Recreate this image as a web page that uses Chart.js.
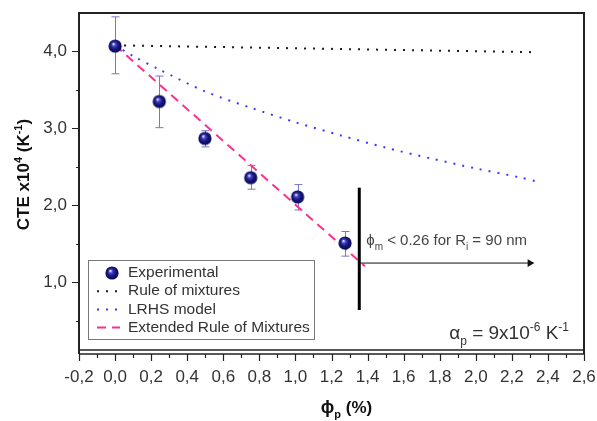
<!DOCTYPE html>
<html><head><meta charset="utf-8">
<script src="https://cdn.jsdelivr.net/npm/chart.js@4/dist/chart.umd.min.js"></script>
<style>html,body{margin:0;padding:0;background:#fff}#wrap{width:597px;height:421px}</style>
</head><body><div id="wrap"><canvas id="c" width="597" height="421"></canvas></div>
<script>
// ---- data ----
const expPhi   = [0.0, 0.245, 0.498, 0.752, 1.012, 1.275];
const expCte   = [4.07, 3.35, 2.87, 2.36, 2.11, 1.51];
const expErrHi = [4.45, 3.68, 2.97, 2.52, 2.27, 1.66];
const expErrLo = [3.71, 3.01, 2.76, 2.21, 1.94, 1.34];

const romPhi = [0.0, 2.34];
const romCte = [4.08, 3.99];

const lrhsPhi = [0.0, 0.1, 0.25, 0.5, 0.75, 1.0, 1.25, 1.5, 1.75, 2.0, 2.25, 2.34];
const lrhsCte = [4.08, 3.94, 3.76, 3.48, 3.27, 3.08, 2.91, 2.75, 2.61, 2.48, 2.36, 2.31];

const eromPhi = [0.0, 1.385];
const eromCte = [4.08, 1.21];

const limitPhi = [1.354, 1.354];
const limitCte = [0.64, 2.23];
const arrowPhi = [1.354, 2.30];
const arrowCte = [1.25, 1.25];

const xTicks = [-0.2,0.0,0.2,0.4,0.6,0.8,1.0,1.2,1.4,1.6,1.8,2.0,2.2,2.4,2.6];
const xMinor = [-0.1,0.1,0.3,0.5,0.7,0.9,1.1,1.3,1.5,1.7,1.9,2.1,2.3,2.5];
const yTicks = [1.0,2.0,3.0,4.0];
const yMinor = [0.5,1.5,2.5,3.5];

const legendLabels = ['Experimental','Rule of mixtures','LRHS model','Extended Rule of Mixtures'];

const FONT = '"Liberation Sans", Arial, "DejaVu Sans", sans-serif';
const TXT = '#333333';

function sphere(){
  const s=16, cv=document.createElement('canvas'); cv.width=s; cv.height=s;
  const g=cv.getContext('2d');
  const grd=g.createRadialGradient(6.3,5.8,0.3,8,8,7.2);
  grd.addColorStop(0,'#f0f0ff'); grd.addColorStop(0.22,'#4848c0');
  grd.addColorStop(0.55,'#15157f'); grd.addColorStop(1,'#06064e');
  g.fillStyle=grd; g.beginPath(); g.arc(8,8,6.6,0,Math.PI*2); g.fill();
  return cv;
}
const ball = sphere();
const pts = (xs,ys)=>xs.map((x,i)=>({x:x,y:ys[i]}));

function drawRich(ctx, runs, x, y, align){
  let w=0;
  runs.forEach(r=>{ctx.font=(r.b?'bold ':'')+r.s+'px '+FONT; r.w=ctx.measureText(r.t).width; w+=r.w;});
  let cx = align==='center'? x-w/2 : align==='right'? x-w : x;
  ctx.textBaseline='alphabetic'; ctx.textAlign='left';
  runs.forEach(r=>{ctx.font=(r.b?'bold ':'')+r.s+'px '+FONT; ctx.fillText(r.t,cx,y+(r.dy||0)); cx+=r.w;});
}

const fmt = v => v.toFixed(1).replace('.',',');

const errPlugin = {
  id:'err',
  beforeDatasetsDraw(chart){
    const ctx=chart.ctx, xs=chart.scales.x, ys=chart.scales.y;
    ctx.save(); ctx.strokeStyle='#7878c4'; ctx.lineWidth=1;
    expPhi.forEach((p,i)=>{
      const px=Math.round(xs.getPixelForValue(p))+0.5;
      const t=ys.getPixelForValue(expErrHi[i]), b=ys.getPixelForValue(expErrLo[i]);
      ctx.beginPath(); ctx.moveTo(px,t); ctx.lineTo(px,b);
      ctx.moveTo(px-4,t); ctx.lineTo(px+4,t); ctx.moveTo(px-4,b); ctx.lineTo(px+4,b); ctx.stroke();
    });
    ctx.restore();
  }
};

const framePlugin = {
  id:'frame',
  afterDraw(chart){
    const ctx=chart.ctx, a=chart.chartArea, xs=chart.scales.x, ys=chart.scales.y, ds=chart.data.datasets;
    ctx.save();
    // frame
    ctx.strokeStyle='#222'; ctx.lineWidth=2;
    ctx.beginPath();
    ctx.moveTo(a.left,a.bottom+4); ctx.lineTo(a.left,a.top); ctx.lineTo(a.right,a.top); ctx.lineTo(a.right,a.bottom+4);
    ctx.stroke();
    ctx.lineWidth=1.5;
    ctx.beginPath(); ctx.moveTo(a.left,a.bottom); ctx.lineTo(a.right,a.bottom);
    ctx.moveTo(a.left,a.bottom+4); ctx.lineTo(a.right,a.bottom+4); ctx.stroke();
    // ticks
    ctx.lineWidth=1.2;
    ctx.beginPath();
    xTicks.forEach(v=>{const p=Math.round(xs.getPixelForValue(v))+0.5; ctx.moveTo(p,a.bottom+4); ctx.lineTo(p,a.bottom+11);});
    xMinor.forEach(v=>{const p=Math.round(xs.getPixelForValue(v))+0.5; ctx.moveTo(p,a.bottom+4); ctx.lineTo(p,a.bottom+8);});
    yTicks.forEach(v=>{const p=Math.round(ys.getPixelForValue(v))+0.5; ctx.moveTo(a.left,p); ctx.lineTo(a.left-7,p);});
    yMinor.forEach(v=>{const p=Math.round(ys.getPixelForValue(v))+0.5; ctx.moveTo(a.left,p); ctx.lineTo(a.left-3,p);});
    ctx.stroke();
    // axis titles
    ctx.fillStyle='#111';
    ctx.save(); ctx.translate(29,(a.top+a.bottom)/2-7); ctx.rotate(-Math.PI/2);
    drawRich(ctx,[{t:'CTE x10',s:17,b:1},{t:'4',s:11,dy:-7,b:1},{t:' (K',s:17,b:1},{t:'-1',s:11,dy:-7,b:1},{t:')',s:17,b:1}],0,0,'center');
    ctx.restore();
    drawRich(ctx,[{t:'ϕ',s:18,b:1},{t:'p',s:11,dy:5,b:1},{t:' (%)',s:17,b:1}],(a.left+a.right)/2+15,413,'center');
    // annotations
    ctx.fillStyle='#444';
    drawRich(ctx,[{t:'ϕ',s:15},{t:'m',s:10,dy:5},{t:' < 0.26 for R',s:15},{t:'i',s:10,dy:5},{t:' = 90 nm',s:15}],
      xs.getPixelForValue(limitPhi[0])+7, ys.getPixelForValue(1.48),'left');
    ctx.fillStyle='#333';
    drawRich(ctx,[{t:'α',s:19},{t:'p',s:12,dy:6},{t:' = 9x10',s:19},{t:'-6',s:12,dy:-8},{t:' K',s:19},{t:'-1',s:12,dy:-8}],
      a.right-15, ys.getPixelForValue(0.26),'right');
    // legend
    const lx=a.left+9, ly=a.top+247, lw=226, lh=79;
    ctx.strokeStyle='#777'; ctx.lineWidth=1;
    ctx.strokeRect(lx+0.5,ly+0.5,lw,lh);
    legendLabels.forEach((lab,i)=>{
      const cy=ly+13+i*18.2;
      const d=ds[i];
      if(i===0){ ctx.drawImage(ball, lx+24-8, cy-8); }
      else{
        ctx.save(); ctx.strokeStyle=d.borderColor; ctx.lineWidth=d.borderWidth; ctx.setLineDash(d.borderDash||[]);
        ctx.beginPath(); ctx.moveTo(lx+9,cy); ctx.lineTo(lx+32,cy); ctx.stroke(); ctx.restore();
      }
      ctx.fillStyle=TXT; ctx.font='15.5px '+FONT; ctx.textBaseline='middle'; ctx.textAlign='left';
      ctx.fillText(lab, lx+40, cy);
    });
    ctx.restore();
  }
};

new Chart(document.getElementById('c'),{
  type:'scatter',
  data:{datasets:[
    {label:legendLabels[0], data:pts(expPhi,expCte), pointStyle:ball, pointRadius:7, showLine:false, order:0},
    {label:legendLabels[1], data:pts(romPhi,romCte), showLine:true, borderColor:'#1a1a1a', borderWidth:2, borderDash:[2,7], pointRadius:0, order:3},
    {label:legendLabels[2], data:pts(lrhsPhi,lrhsCte), showLine:true, borderColor:'#3a3aff', borderWidth:2, borderDash:[2,7], pointRadius:0, tension:0.3, order:3},
    {label:legendLabels[3], data:pts(eromPhi,eromCte), showLine:true, borderColor:'#ff2f8e', borderWidth:2, borderDash:[9,6], pointRadius:0, order:2},
    {label:'limit', data:pts(limitPhi,limitCte), showLine:true, borderColor:'#000', borderWidth:3, pointRadius:0, order:1},
    {label:'arrow', data:pts(arrowPhi,arrowCte), showLine:true, borderWidth:1, pointRadius:[0,4.5], pointStyle:'triangle', rotation:90, backgroundColor:'#111', borderColor:'#111', pointBorderWidth:0, order:1}
  ]},
  options:{
    responsive:false, devicePixelRatio:1, animation:false,
    layout:{padding:{top:13,right:13,left:0,bottom:0}},
    plugins:{legend:{display:false}, tooltip:{enabled:false}},
    scales:{
      x:{type:'linear', min:-0.2, max:2.6,
        afterFit(s){s.height=71; s.paddingLeft=0; s.paddingRight=0;},
        afterBuildTicks(s){s.ticks=xTicks.map(v=>({value:v}));},
        grid:{display:false, drawTicks:false}, border:{display:false},
        ticks:{padding:17, color:TXT, font:{family:FONT,size:17}, callback:v=>fmt(v), maxRotation:0, autoSkip:false}
      },
      y:{type:'linear', min:0.12, max:4.5,
        afterFit(s){s.width=79; s.paddingTop=0; s.paddingBottom=0;},
        afterBuildTicks(s){s.ticks=yTicks.map(v=>({value:v}));},
        grid:{display:false, drawTicks:false}, border:{display:false},
        ticks:{padding:12, color:TXT, font:{family:FONT,size:17}, callback:v=>fmt(v)}
      }
    }
  },
  plugins:[errPlugin, framePlugin]
});
</script></body></html>
